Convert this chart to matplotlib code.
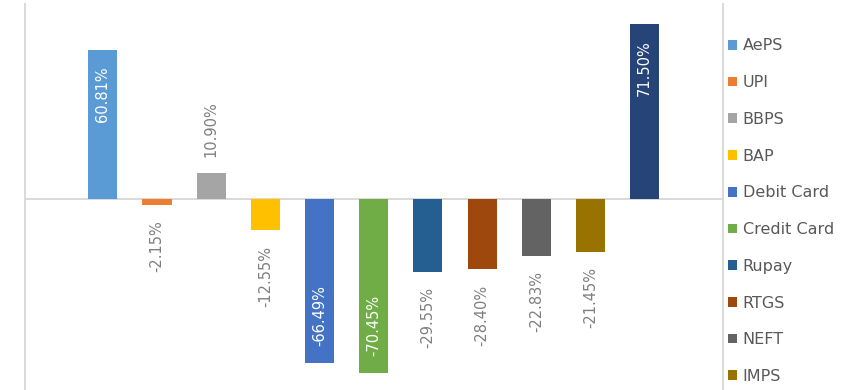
import matplotlib.pyplot as plt
from matplotlib.patches import Patch

categories = ['AePS', 'UPI', 'BBPS', 'BAP', 'Debit Card', 'Credit Card',
              'Rupay', 'RTGS', 'NEFT', 'IMPS', 'NETC']
growth = [60.81, -2.15, 10.90, -12.55, -66.49, -70.45,
          -29.55, -28.40, -22.83, -21.45, 71.50]
colors = ['#5B9BD5', '#ED7D31', '#A5A5A5', '#FFC000', '#4472C4', '#70AD47',
          '#255E91', '#9E480E', '#636363', '#997300', '#264478']
# labels drawn inside the bar end (white) vs outside (gray)
inside = [True, False, False, False, True, True,
          False, False, False, False, True]
# the last legend entry falls below the visible area in the original crop
n_legend = 10

W, H = 851, 390
fig = plt.figure(figsize=(W / 100, H / 100), dpi=100)
ax = fig.add_axes([24.5 / W, 0, (723 - 24.5) / W, (H - 4) / H])

x = list(range(len(categories)))
ax.bar(x, growth, width=0.537, color=colors, zorder=2)
ax.set_xlim(-1.444, 11.444)
ax.set_ylim(-77.5, 79.5)
ax.axhline(0, color='#D9D9D9', linewidth=1.4, zorder=1)

for xi, v, ins in zip(x, growth, inside):
    txt = f'{v:.2f}%'
    if ins:
        off = -12 if v > 0 else 12
        va = 'top' if v > 0 else 'bottom'
        col = 'white'
    else:
        off = 11 if v > 0 else -11
        va = 'bottom' if v > 0 else 'top'
        col = '#7F7F7F'
    ax.annotate(txt, (xi, v), xytext=(0, off), textcoords='offset points',
                rotation=90, ha='center', va=va, color=col, fontsize=10.5,
                zorder=3)

for s in ['top', 'bottom']:
    ax.spines[s].set_visible(False)
for s in ['left', 'right']:
    ax.spines[s].set_color('#D9D9D9')
    ax.spines[s].set_linewidth(1.4)
ax.set_xticks([])
ax.set_yticks([])

handles = [Patch(facecolor=c, edgecolor='none') for c in colors[:n_legend]]
fig.legend(handles, categories[:n_legend], loc='upper left',
           bbox_to_anchor=(728 / W, 1 - 38.5 / H), frameon=False,
           fontsize=11.5, labelcolor='#595959', handlelength=0.56,
           handleheight=0.56, handletextpad=0.36, labelspacing=1.36,
           borderpad=0, borderaxespad=0)

fig.savefig('out.png', dpi=100)
